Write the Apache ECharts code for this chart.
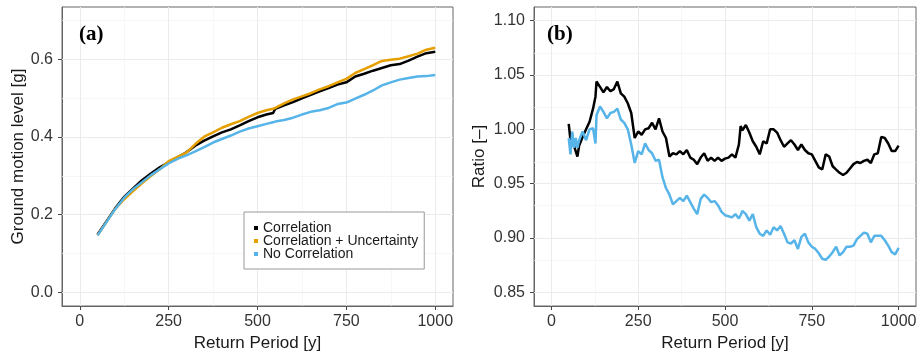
<!DOCTYPE html>
<html><head><meta charset="utf-8">
<script src="https://cdn.jsdelivr.net/npm/echarts@6/dist/echarts.min.js"></script>
<style>html,body{margin:0;padding:0;background:#fff}#c{width:924px;height:357px}</style>
</head><body><div id="c"></div>
<script>
// ---- Panel (a) data: Ground motion level [g] vs Return Period [y]
const periodA = [50,75,100,125,150,175,200,225,250,275,300,325,350,375,400,425,450,475,500,525,544,550,575,600,625,650,675,700,725,750,775,800,825,850,875,900,925,950,975,1000];
const correlation = [0.149,0.183,0.217,0.246,0.268,0.289,0.306,0.322,0.335,0.348,0.361,0.378,0.391,0.402,0.412,0.420,0.430,0.441,0.451,0.458,0.462,0.473,0.482,0.490,0.500,0.509,0.518,0.526,0.535,0.541,0.556,0.563,0.571,0.578,0.585,0.588,0.597,0.607,0.616,0.620];
const corrUncert = [0.147,0.181,0.215,0.240,0.261,0.281,0.300,0.317,0.338,0.349,0.360,0.382,0.401,0.412,0.424,0.433,0.441,0.452,0.462,0.469,0.473,0.475,0.487,0.497,0.505,0.513,0.523,0.531,0.541,0.550,0.565,0.575,0.585,0.596,0.599,0.602,0.608,0.615,0.625,0.630];
const noCorrelation = [0.147,0.181,0.215,0.244,0.266,0.284,0.302,0.317,0.332,0.344,0.353,0.363,0.374,0.386,0.395,0.404,0.414,0.422,0.428,0.434,0.438,0.440,0.444,0.450,0.458,0.465,0.469,0.475,0.485,0.489,0.499,0.509,0.520,0.533,0.541,0.548,0.552,0.556,0.557,0.560];

// ---- Panel (b) data: Ratio [-] vs Return Period [y]
const periodB = [50,55,60,65,70,75,80,90,100,110,120,127,130,140,150,160,170,180,190,200,210,220,230,240,250,260,270,280,290,300,310,320,330,340,350,360,370,380,390,400,410,420,430,440,450,460,470,480,490,500,510,520,530,540,545,550,560,570,580,590,600,610,620,630,640,650,660,670,680,690,700,710,720,730,740,750,760,770,780,790,800,810,820,830,840,850,860,870,880,890,900,910,920,930,940,950,960,970,980,990,1000];
const ratioCorr = [1.005,0.990,0.995,0.985,0.980,0.975,0.985,0.993,1.000,1.007,1.019,1.030,1.044,1.039,1.034,1.039,1.035,1.037,1.044,1.033,1.030,1.024,1.015,0.992,0.998,0.995,1.000,1.001,1.006,1.000,1.010,0.998,0.992,0.975,0.978,0.977,0.980,0.977,0.981,0.974,0.972,0.968,0.974,0.978,0.971,0.974,0.971,0.974,0.971,0.973,0.974,0.977,0.974,0.986,1.003,0.999,1.004,0.997,0.989,0.984,0.977,0.989,0.987,1.000,1.000,0.997,0.990,0.984,0.987,0.990,0.986,0.981,0.986,0.981,0.978,0.977,0.971,0.965,0.963,0.977,0.975,0.966,0.963,0.960,0.958,0.960,0.964,0.968,0.970,0.969,0.971,0.972,0.969,0.977,0.978,0.993,0.992,0.987,0.980,0.980,0.985];
const ratioNoCorr = [0.992,0.977,0.998,0.983,0.992,0.983,0.990,0.998,0.990,1.000,1.001,0.987,1.013,1.021,1.016,1.010,1.015,1.016,1.019,1.009,1.006,1.000,0.986,0.969,0.980,0.977,0.987,0.981,0.978,0.971,0.972,0.956,0.946,0.940,0.931,0.934,0.937,0.934,0.939,0.933,0.927,0.922,0.936,0.940,0.937,0.933,0.934,0.930,0.924,0.921,0.920,0.919,0.922,0.918,0.921,0.925,0.922,0.916,0.922,0.910,0.904,0.902,0.907,0.903,0.910,0.907,0.911,0.904,0.896,0.895,0.898,0.890,0.901,0.904,0.896,0.892,0.890,0.886,0.881,0.880,0.883,0.887,0.892,0.884,0.887,0.892,0.892,0.893,0.899,0.902,0.905,0.904,0.896,0.902,0.902,0.902,0.898,0.893,0.887,0.885,0.891];

// ---- Axis ticks
const xTicks = [0,250,500,750,1000];
const xMinor = [125,375,625,875];
const yTicksA = [0,0.2,0.4,0.6];
const yMinorA = [0.1,0.3,0.5,0.7];
const yTicksB = [0.85,0.90,0.95,1.00,1.05,1.10];
const yMinorB = [0.875,0.925,0.975,1.025,1.075];

const FONT = 'Liberation Sans';
const zip = (xs, ys) => xs.map((x, i) => [x, ys[i]]);

function gridLines(gi, xMaj, xMin, yMaj, yMin) {
  const d = [];
  const minor = {color: '#f4f4f4', width: 0.7, type: 'solid'};
  const major = {color: '#ebebeb', width: 1, type: 'solid'};
  xMin.forEach(v => d.push({xAxis: v, lineStyle: minor}));
  yMin.forEach(v => d.push({yAxis: v, lineStyle: minor}));
  xMaj.forEach(v => d.push({xAxis: v, lineStyle: major}));
  yMaj.forEach(v => d.push({yAxis: v, lineStyle: major}));
  return {
    type: 'line', name: 'grid' + gi, xAxisIndex: gi, yAxisIndex: gi, data: [], silent: true, z: 1,
    markLine: {silent: true, z: 1, symbol: ['none','none'], label: {show: false}, animation: false,
      lineStyle: {type: 'solid'}, emphasis: {disabled: true}, data: d}
  };
}

function xAxis(gi) {
  return {
    type: 'value', gridIndex: gi, min: -50, max: 1050, interval: 50,
    name: 'Return Period [y]', nameLocation: 'middle', nameGap: 29,
    nameTextStyle: {fontFamily: FONT, fontSize: 17, color: '#1a1a1a'},
    axisLine: {show: true, onZero: false, lineStyle: {color: '#666', width: 1}},
    axisTick: {show: true, length: 4, customValues: xTicks, lineStyle: {color: '#444', width: 1}},
    axisLabel: {customValues: xTicks, margin: 8, fontFamily: FONT, fontSize: 16, color: '#333', formatter: v => String(v)},
    splitLine: {show: false}
  };
}

function yAxis(gi, min, max, interval, name, gap, ticks, digits) {
  return {
    type: 'value', gridIndex: gi, min, max, interval,
    name, nameLocation: 'middle', nameGap: gap,
    nameTextStyle: {fontFamily: FONT, fontSize: 17, color: '#1a1a1a'},
    axisLine: {show: true, onZero: false, lineStyle: {color: '#666', width: 1}},
    axisTick: {show: true, length: 4, customValues: ticks, lineStyle: {color: '#444', width: 1}},
    axisLabel: {customValues: ticks, margin: 9, fontFamily: FONT, fontSize: 16, color: '#333', formatter: v => v.toFixed(digits)},
    splitLine: {show: false}
  };
}

const line = (name, gi, data, color) => ({
  type: 'line', name, xAxisIndex: gi, yAxisIndex: gi, data, showSymbol: false, symbol: 'none',
  lineStyle: {color, width: 2.5}, itemStyle: {color}, z: 3, animation: false
});

const chart = echarts.init(document.getElementById('c'), null, {renderer: 'canvas'});
chart.setOption({
  backgroundColor: '#fff',
  animation: false,
  title: [
    {text: '(a)', left: 79, top: 24, padding: 0, textStyle: {fontFamily: 'Liberation Serif', fontWeight: 'bold', fontSize: 21, color: '#000'}},
    {text: '(b)', left: 547, top: 24, padding: 0, textStyle: {fontFamily: 'Liberation Serif', fontWeight: 'bold', fontSize: 21, color: '#000'}}
  ],
  grid: [
    {left: 62, right: 471, top: 7, bottom: 48, show: true, borderColor: '#666', borderWidth: 1, backgroundColor: '#fff'},
    {left: 534, right: 8, top: 7, bottom: 48, show: true, borderColor: '#666', borderWidth: 1, backgroundColor: '#fff'}
  ],
  legend: {
    data: ['Correlation', 'Correlation + Uncertainty', 'No Correlation'],
    orient: 'vertical', left: 244, top: 212, icon: 'rect', itemWidth: 4, itemHeight: 4,
    itemGap: -1, itemTextGap: 8, padding: [9, 6, 8, 10], borderColor: '#999', borderWidth: 1,
    backgroundColor: '#fff', selectedMode: false,
    textStyle: {fontFamily: FONT, fontSize: 14, color: '#1a1a1a', lineHeight: 14}
  },
  xAxis: [xAxis(0), xAxis(1)],
  yAxis: [
    yAxis(0, -0.035, 0.735, 0.035, 'Ground motion level [g]', 35, yTicksA, 1),
    yAxis(1, 0.8375, 1.1125, 0.0125, 'Ratio [–]', 46, yTicksB, 2)
  ],
  series: [
    gridLines(0, xTicks, xMinor, yTicksA, yMinorA),
    gridLines(1, xTicks, xMinor, yTicksB, yMinorB),
    line('Correlation', 0, zip(periodA, correlation), '#000000'),
    line('Correlation + Uncertainty', 0, zip(periodA, corrUncert), '#E69F00'),
    line('No Correlation', 0, zip(periodA, noCorrelation), '#56B4E9'),
    line('Ratio: Correlation', 1, zip(periodB, ratioCorr), '#000000'),
    line('Ratio: No Correlation', 1, zip(periodB, ratioNoCorr), '#56B4E9')
  ]
});
</script></body></html>
